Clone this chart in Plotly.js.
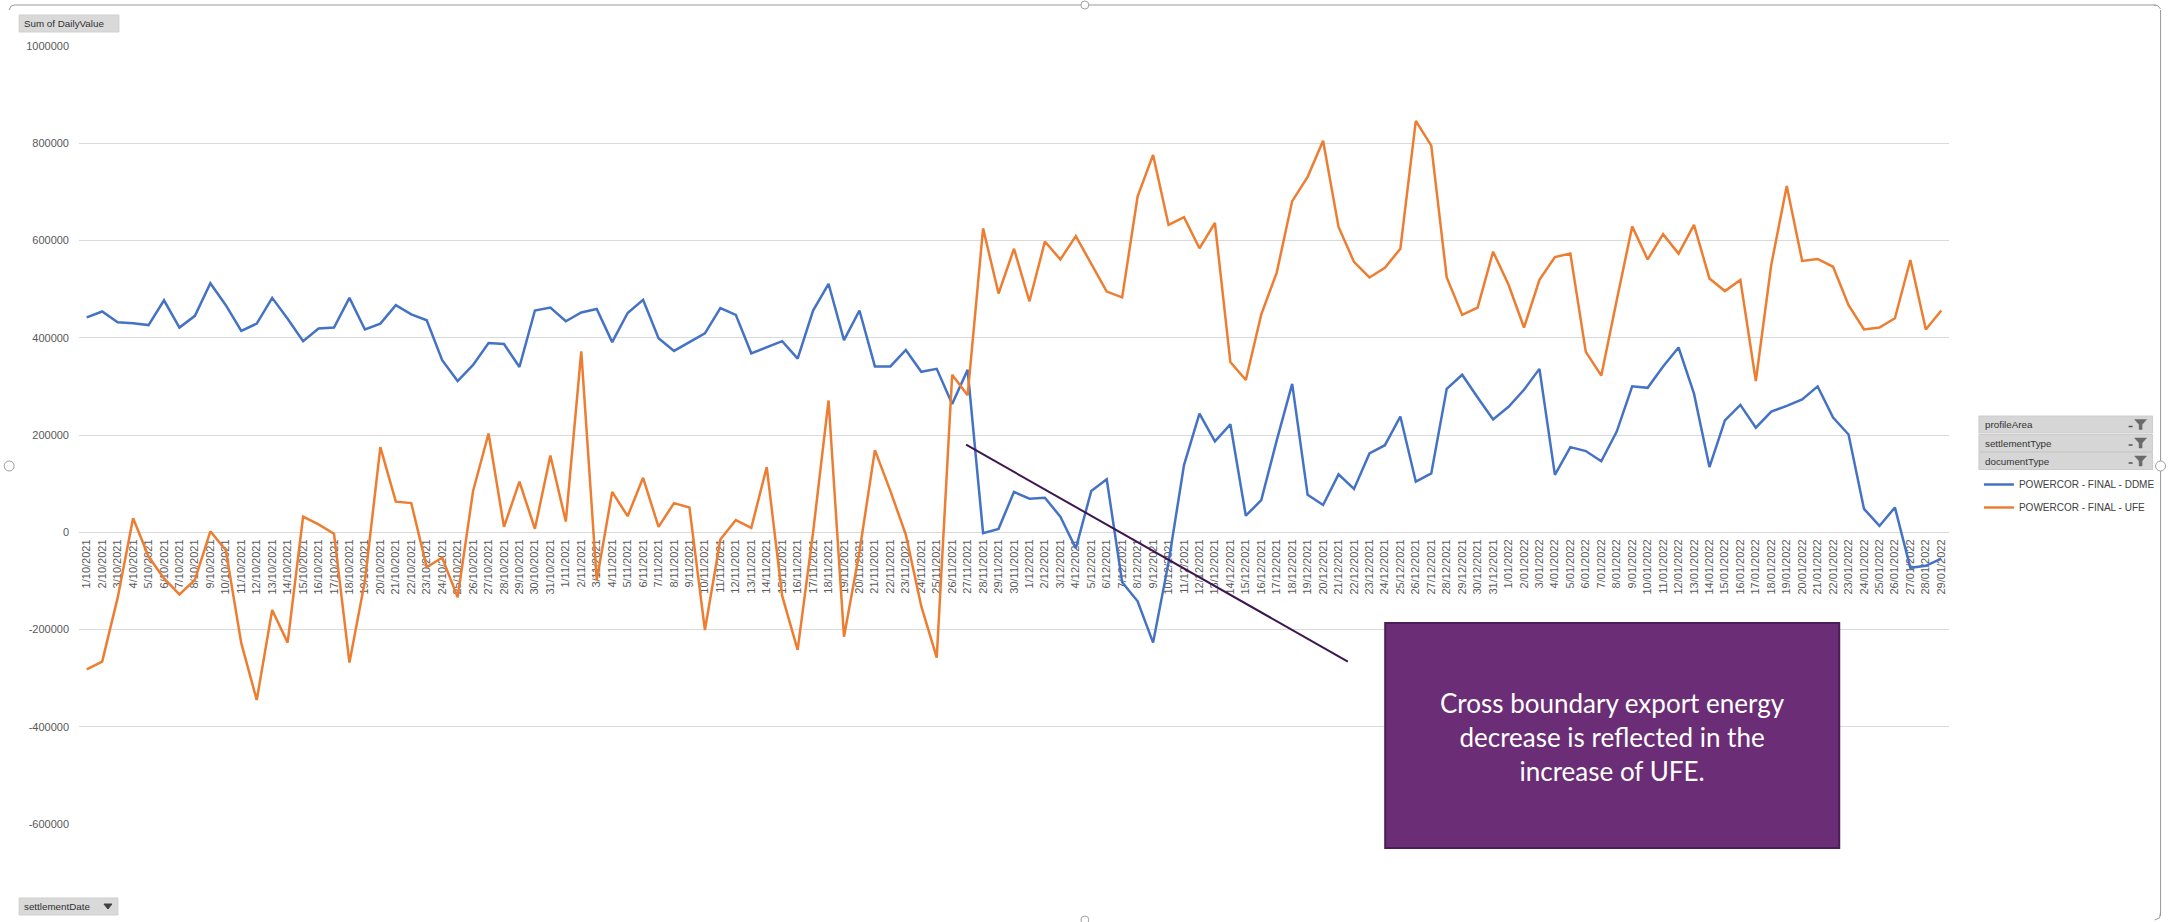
<!DOCTYPE html>
<html>
<head>
<meta charset="utf-8">
<script src="https://cdn.plot.ly/plotly-3.0.1.min.js"></script>
<style>
html,body{margin:0;padding:0;background:#fff;}
#chart{width:2172px;height:922px;}
</style>
</head>
<body>
<div id="chart"></div>
<script>
// ---------- data ----------
const settlementDate = [
'1/10/2021','2/10/2021','3/10/2021','4/10/2021','5/10/2021','6/10/2021','7/10/2021','8/10/2021','9/10/2021','10/10/2021',
'11/10/2021','12/10/2021','13/10/2021','14/10/2021','15/10/2021','16/10/2021','17/10/2021','18/10/2021','19/10/2021','20/10/2021',
'21/10/2021','22/10/2021','23/10/2021','24/10/2021','25/10/2021','26/10/2021','27/10/2021','28/10/2021','29/10/2021','30/10/2021','31/10/2021',
'1/11/2021','2/11/2021','3/11/2021','4/11/2021','5/11/2021','6/11/2021','7/11/2021','8/11/2021','9/11/2021','10/11/2021',
'11/11/2021','12/11/2021','13/11/2021','14/11/2021','15/11/2021','16/11/2021','17/11/2021','18/11/2021','19/11/2021','20/11/2021',
'21/11/2021','22/11/2021','23/11/2021','24/11/2021','25/11/2021','26/11/2021','27/11/2021','28/11/2021','29/11/2021','30/11/2021',
'1/12/2021','2/12/2021','3/12/2021','4/12/2021','5/12/2021','6/12/2021','7/12/2021','8/12/2021','9/12/2021','10/12/2021',
'11/12/2021','12/12/2021','13/12/2021','14/12/2021','15/12/2021','16/12/2021','17/12/2021','18/12/2021','19/12/2021','20/12/2021',
'21/12/2021','22/12/2021','23/12/2021','24/12/2021','25/12/2021','26/12/2021','27/12/2021','28/12/2021','29/12/2021','30/12/2021','31/12/2021',
'1/01/2022','2/01/2022','3/01/2022','4/01/2022','5/01/2022','6/01/2022','7/01/2022','8/01/2022','9/01/2022','10/01/2022',
'11/01/2022','12/01/2022','13/01/2022','14/01/2022','15/01/2022','16/01/2022','17/01/2022','18/01/2022','19/01/2022','20/01/2022',
'21/01/2022','22/01/2022','23/01/2022','24/01/2022','25/01/2022','26/01/2022','27/01/2022','28/01/2022','29/01/2022'
];

const ddmeValues = [
442000,454000,432000,430000,426000,477000,421000,445000,512000,467000,
414000,429000,482000,439000,393000,419000,421000,482000,417000,429000,
467000,448000,436000,354000,311000,344000,389000,387000,340000,456000,462000,
434000,452000,459000,391000,451000,478000,399000,373000,391000,409000,
461000,447000,368000,381000,393000,357000,456000,511000,395000,456000,
341000,341000,375000,330000,336000,264000,334000,-2000,7000,83000,
69000,71000,32000,-33000,85000,109000,-103000,-142000,-227000,-62000,
138000,244000,187000,222000,34000,66000,189000,305000,77000,56000,
119000,89000,162000,179000,238000,104000,121000,295000,324000,277000,232000,
258000,293000,336000,118000,175000,167000,146000,207000,300000,297000,
341000,380000,285000,134000,230000,262000,215000,248000,260000,273000,
300000,236000,201000,48000,13000,51000,-73000,-69000,-54000
];

const ufeValues = [
-282000,-266000,-135000,29000,-50000,-95000,-128000,-98000,2000,-37000,
-228000,-345000,-160000,-227000,32000,16000,-3000,-268000,-100000,175000,
63000,60000,-72000,-52000,-134000,85000,203000,11000,104000,7000,158000,
22000,372000,-99000,83000,33000,112000,11000,60000,51000,-201000,
-15000,25000,9000,134000,-131000,-242000,0,271000,-215000,-40000,
169000,85000,-5000,-152000,-258000,324000,282000,625000,491000,583000,
475000,598000,561000,609000,552000,495000,483000,691000,776000,632000,
648000,584000,636000,350000,313000,448000,534000,681000,731000,805000,
628000,556000,524000,544000,583000,846000,795000,524000,447000,462000,577000,
509000,421000,519000,566000,573000,371000,322000,477000,629000,561000,
613000,573000,632000,522000,496000,519000,311000,550000,712000,558000,
562000,546000,467000,417000,421000,440000,560000,417000,456000
];

const seriesNames = ['POWERCOR - FINAL - DDME', 'POWERCOR - FINAL - UFE'];
const yTickValues = [-600000,-400000,-200000,0,200000,400000,600000,800000,1000000];
const yTickLabels = ['-600000','-400000','-200000','0','200000','400000','600000','800000','1000000'];
const filterFields = ['profileArea','settlementType','documentType'];
const valueFieldLabel = 'Sum of DailyValue';
const axisFieldLabel = 'settlementDate';
const noteText = 'Cross boundary export energy<br>decrease is reflected in the<br>increase of UFE.';

// ---------- layout helpers (pixel -> paper) ----------
const W = 2172, H = 922;
const ML = 79, PW = 1874, MT = 46, PH = 778;
const MR = W - ML - PW, MB = H - MT - PH;
const X = px => (px - ML) / PW;
const Y = py => (MT + PH - py) / PH;

const FONT = 'Liberation Sans, Arial, sans-serif';
const shapes = [];
const annotations = [];

function rectPx(x0, y0, x1, y1, fill, line, lw) {
  shapes.push({type:'rect', xref:'paper', yref:'paper', x0:X(x0), x1:X(x1), y0:Y(y1), y1:Y(y0),
    fillcolor: fill, line:{color: line, width: lw}, layer:'above'});
}
function linePx(x0, y0, x1, y1, color, w) {
  shapes.push({type:'line', xref:'paper', yref:'paper', x0:X(x0), x1:X(x1), y0:Y(y0), y1:Y(y1),
    line:{color: color, width: w}, layer:'above'});
}
function pathPx(pts, fill, line, lw, closed) {
  let d = pts.map((p, i) => (i ? 'L' : 'M') + X(p[0]) + ',' + Y(p[1])).join(' ');
  if (closed) d += ' Z';
  shapes.push({type:'path', xref:'paper', yref:'paper', path:d, fillcolor: fill,
    line:{color: line, width: lw}, layer:'above'});
}
function circlePx(cx, cy, r) {
  shapes.push({type:'circle', xref:'paper', yref:'paper', x0:X(cx - r), x1:X(cx + r), y0:Y(cy + r), y1:Y(cy - r),
    fillcolor:'#ffffff', line:{color:'#a0a0a0', width:1}, layer:'above'});
}
function textPx(x, y, txt, size, color, xanchor, family) {
  annotations.push({xref:'paper', yref:'paper', x:X(x), y:Y(y), text:txt, showarrow:false,
    xanchor: xanchor || 'left', yanchor:'middle', font:{family: family || FONT, size:size, color:color}});
}

// frame of the chart object
linePx(14, 5, 2160, 5, '#9a9a9a', 1);
linePx(2165, 10, 2165, 916, '#9a9a9a', 1);
pathPx([[2158,5],[2162,5.5],[2165,9]], 'rgba(0,0,0,0)', '#9a9a9a', 1, false);
pathPx([[2165,912],[2164,918],[2159,920]], 'rgba(0,0,0,0)', '#9a9a9a', 1, false);
pathPx([[14,5],[11,6],[9,10]], 'rgba(0,0,0,0)', '#9a9a9a', 1, false);
circlePx(1087, 5, 4);
circlePx(2165, 466, 5);
circlePx(9, 466, 5);
circlePx(1087, 920, 4);

// field buttons
rectPx(19, 15, 119, 32, '#d9d9d9', '#cfcfcf', 1);
textPx(22, 23.5, valueFieldLabel, 9.8, '#303030');
rectPx(19, 898, 118, 915, '#d9d9d9', '#cfcfcf', 1);
textPx(22, 906.5, axisFieldLabel, 9.8, '#303030');
pathPx([[104,904],[112,904],[108,909]], '#404040', '#404040', 1, true);

const btnTop = [416, 434.5, 452.5];
filterFields.forEach((f, i) => {
  const t = btnTop[i], b = t + 17, c = (t + b) / 2;
  rectPx(1983, t, 2157, b, '#d6d6d6', '#cccccc', 1);
  textPx(1987, c, f, 9.8, '#333333');
  // small dropdown dash + funnel
  linePx(2133, c + 2, 2137, c + 2, '#505050', 1.5);
  pathPx([[2139, c - 5], [2151, c - 5], [2146.5, c], [2146.5, c + 5], [2143.5, c + 5], [2143.5, c]], '#6a6a6a', '#6a6a6a', 0.5, true);
});

// purple note box
rectPx(1388, 623, 1843, 848, '#6b2d75', '#4b1d57', 2);
annotations.push({xref:'paper', yref:'paper', x:X(1615.5), y:Y(737), text:noteText, showarrow:false,
  xanchor:'center', yanchor:'middle', align:'center',
  font:{family:'Lato, Open Sans, sans-serif', size:26, color:'#ffffff'}});

// dark callout line (data coordinates)
shapes.push({type:'line', xref:'x', yref:'y', x0:56.9, y0:180000, x1:81.6, y1:-266000,
  line:{color:'#3d1650', width:2}, layer:'above'});

const traces = [
  {x: settlementDate, y: ddmeValues, name: seriesNames[0], type:'scatter', mode:'lines',
   line:{color:'#4472c4', width:2.5}, legendgroup:'a'},
  {x: settlementDate, y: ufeValues, name: seriesNames[1], type:'scatter', mode:'lines',
   line:{color:'#ed7d31', width:2.5}, legendgroup:'b'}
];

const layout = {
  width: W, height: H,
  margin: {l: ML, r: MR, t: MT, b: MB, pad: 0},
  paper_bgcolor:'#ffffff', plot_bgcolor:'#ffffff',
  font: {family: FONT, size: 11, color:'#595959'},
  showlegend: true,
  legend: {x: X(1983), y: Y(470), xanchor:'left', yanchor:'top', bgcolor:'rgba(0,0,0,0)',
    font:{family: FONT, size:10, color:'#404040'}, tracegroupgap: 4, itemwidth: 30},
  xaxis: {
    type:'category', range:[-0.5, settlementDate.length - 0.5],
    anchor:'free', position: 0.375,
    tickmode:'linear', dtick:1, tickangle:-90, ticks:'', showgrid:false, zeroline:false, showline:false,
    tickfont:{family: FONT, size:11, color:'#595959'}, ticklabelstandoff: 4,
    layer:'below traces', automargin:false
  },
  yaxis: {
    range:[-600000, 1000000], tickmode:'array', tickvals: yTickValues, ticktext: yTickLabels,
    showgrid:true, gridcolor:'#d9d9d9', gridwidth:1, zeroline:false, showline:false, ticks:'',
    tickfont:{family: FONT, size:11, color:'#595959'}, ticklabelstandoff: 9, automargin:false
  },
  shapes: shapes,
  annotations: annotations
};

Plotly.newPlot('chart', traces, layout, {staticPlot:true, displayModeBar:false});
</script>
</body>
</html>
